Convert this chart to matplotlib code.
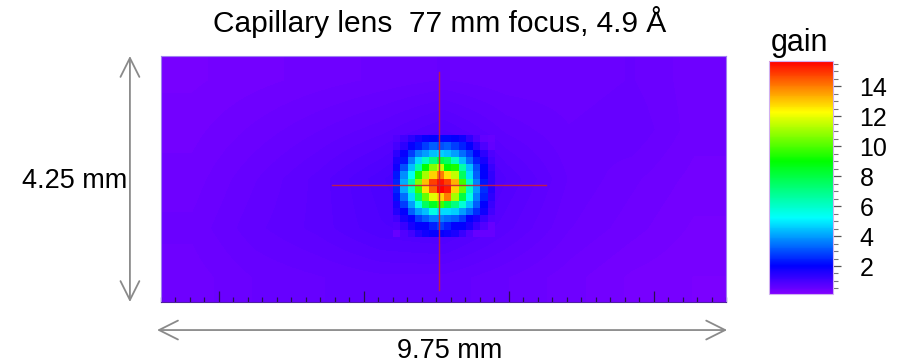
import numpy as np
import matplotlib
matplotlib.use("Agg")
import matplotlib.pyplot as plt
from matplotlib.colors import LinearSegmentedColormap, Normalize
from matplotlib.ticker import MultipleLocator, FixedLocator

plt.rcParams['font.family'] = ['Liberation Sans', 'DejaVu Sans']

# ---- data ----
title = "Capillary lens  77 mm focus, 4.9 \u00c5"
width_mm = 9.75
height_mm = 4.25
cell_mm = 0.125
gain_min, gain_max = 0.13, 15.7

# coarse background gain (top row first)
background = [
    [0.30, 0.35, 0.40, 0.45, 0.50, 0.45, 0.45, 0.50, 0.40],
    [0.35, 0.45, 0.55, 0.65, 0.80, 0.60, 0.50, 0.55, 0.40],
    [0.40, 0.55, 0.70, 0.90, 1.20, 0.80, 0.55, 0.45, 0.35],
    [0.45, 0.60, 0.70, 0.85, 0.90, 0.70, 0.50, 0.40, 0.30],
    [0.40, 0.50, 0.55, 0.60, 0.60, 0.50, 0.40, 0.30, 0.25],
]

# focal spot cells: rows 11-24, columns 32-45 of the 34 x 78 pixel scan
spot_row0, spot_col0 = 11, 32
spot = [
    [0.8, 1.1, 1.4, 1.7, 1.9, 2.0, 2.1, 2.1, 2.0, 1.8, 1.3, 0.9, 0.6, 0.5],
    [1.0, 1.4, 1.9, 2.3, 2.8, 3.2, 3.0, 3.2, 2.8, 2.4, 2.0, 1.4, 0.9, 0.6],
    [1.4, 1.9, 2.8, 3.6, 4.0, 4.4, 4.6, 4.4, 4.0, 3.4, 2.8, 2.0, 1.4, 0.9],
    [1.6, 2.2, 3.6, 4.8, 6.1, 7.1, 8.0, 7.6, 6.1, 4.4, 3.4, 2.4, 1.7, 1.0],
    [1.8, 3.0, 4.4, 6.5, 9.0, 10.7, 11.5, 9.0, 9.3, 6.5, 4.4, 3.0, 2.0, 1.2],
    [2.3, 3.8, 5.4, 9.3, 11.1, 12.9, 14.0, 12.7, 11.5, 7.6, 4.8, 3.2, 2.0, 1.3],
    [2.5, 4.2, 6.5, 10.7, 13.1, 14.8, 15.4, 14.8, 13.3, 9.8, 6.1, 3.6, 2.3, 1.3],
    [2.5, 4.2, 6.1, 9.8, 12.7, 14.4, 15.7, 15.3, 12.9, 10.3, 6.1, 4.0, 2.6, 1.5],
    [2.2, 3.4, 4.8, 7.6, 10.3, 11.9, 12.9, 14.0, 11.1, 8.0, 5.6, 3.6, 2.4, 1.4],
    [1.7, 2.8, 4.0, 5.6, 7.6, 8.5, 9.8, 8.0, 7.1, 5.8, 4.4, 3.2, 2.0, 1.2],
    [1.5, 2.0, 3.2, 4.0, 4.4, 5.6, 4.8, 4.8, 4.6, 4.0, 3.4, 2.6, 1.8, 1.1],
    [1.1, 1.7, 2.0, 2.8, 3.2, 3.6, 3.6, 3.4, 3.2, 2.8, 2.0, 1.7, 1.2, 0.8],
    [0.8, 1.2, 1.7, 2.0, 2.0, 2.4, 2.8, 2.4, 2.0, 2.0, 1.7, 1.2, 0.8, 0.5],
    [0.5, 0.8, 1.1, 1.5, 1.8, 1.9, 1.9, 1.8, 1.6, 1.2, 0.8, 0.5, 0.5, 0.5],
]

cross_x, cross_y, cross_half = 4.80, 2.02, 1.85
cbar_ticks = [2, 4, 6, 8, 10, 12, 14]

# ---- colormap: purple -> blue -> cyan -> green -> yellow -> red ----
stops = [(gain_min, (0.5, 0.0, 1.0)), (2.0, (0.0, 0.0, 1.0)), (5.2, (0.0, 1.0, 1.0)),
         (9.0, (0.0, 1.0, 0.0)), (12.3, (1.0, 1.0, 0.0)), (gain_max, (1.0, 0.0, 0.0))]
cmap = LinearSegmentedColormap.from_list(
    "gain", [((v - gain_min) / (gain_max - gain_min), c) for v, c in stops])
norm = Normalize(gain_min, gain_max)

fig = plt.figure(figsize=(8.99, 3.63), dpi=100)
ax = fig.add_axes([161 / 899, 61 / 363, 565 / 899, 246 / 363])

ax.imshow(np.array(background), cmap=cmap, norm=norm, interpolation='bilinear',
          extent=[0, width_mm, 0, height_mm], aspect='auto', origin='upper')
spot_arr = np.array(spot)
nr, nc = spot_arr.shape
x0 = spot_col0 * cell_mm
y1 = height_mm - spot_row0 * cell_mm
ax.imshow(spot_arr, cmap=cmap, norm=norm, interpolation='nearest',
          extent=[x0, x0 + nc * cell_mm, y1 - nr * cell_mm, y1], aspect='auto', origin='upper')
ax.set_xlim(0, width_mm)
ax.set_ylim(0, height_mm)

# crosshair
cross_col = '#c8203c'
ax.plot([cross_x - cross_half, cross_x + cross_half], [cross_y, cross_y],
        color=cross_col, lw=1.0, alpha=0.9)
ax.plot([cross_x, cross_x], [cross_y - cross_half * 0.98, cross_y + cross_half * 1.06],
        color=cross_col, lw=1.0, alpha=0.9)

ax.xaxis.set_major_locator(FixedLocator([1.0, 3.5, 6.0, 8.5]))
ax.xaxis.set_minor_locator(MultipleLocator(0.25))
ax.tick_params(axis='x', which='both', direction='in', bottom=True, top=False,
               labelbottom=False, color='#2a1050', width=0.9)
ax.tick_params(axis='x', which='major', length=8)
ax.tick_params(axis='x', which='minor', length=3.5)
ax.tick_params(axis='y', which='both', left=False, right=False, labelleft=False)
for s in ax.spines.values():
    s.set_color('#a080f0')
    s.set_linewidth(0.8)
ax.spines['bottom'].set_color('#5020a0')

# dimension arrows
arrow_kw = dict(arrowstyle='<->', color='#8a8a8a', lw=1.3, mutation_scale=34,
                shrinkA=0, shrinkB=0)
ax.annotate('', xy=(-0.055, 0.0), xytext=(-0.055, 1.0), xycoords='axes fraction',
            textcoords='axes fraction', arrowprops=arrow_kw, annotation_clip=False)
ax.annotate('', xy=(-0.007, -0.114), xytext=(1.002, -0.114), xycoords='axes fraction',
            textcoords='axes fraction', arrowprops=arrow_kw, annotation_clip=False)
ax.text(-0.152, 0.49, f"{height_mm:.2f} mm", transform=ax.transAxes, ha='center',
        va='center', fontsize=19.5)
ax.text(0.51, -0.2, f"{width_mm:.2f} mm", transform=ax.transAxes, ha='center',
        va='center', fontsize=19.5)

fig.text(440 / 899, 1 - 22 / 363, title, ha='center', va='center', fontsize=21.5)

# colour bar
cax = fig.add_axes([769 / 899, 69 / 363, 64 / 899, 233 / 363])
sm = plt.cm.ScalarMappable(norm=norm, cmap=cmap)
cb = fig.colorbar(sm, cax=cax)
cb.set_ticks(cbar_ticks)
cb.ax.yaxis.set_minor_locator(MultipleLocator(0.5))
cb.ax.tick_params(which='major', length=6, width=0.9, color='#555555', labelsize=18, pad=13)
cb.ax.tick_params(which='minor', length=3.5, width=0.8, color='#777777')
cb.outline.set_edgecolor('#d0b0f0')
cb.outline.set_linewidth(0.8)
fig.text(800 / 899, 1 - 51 / 363, 'gain', ha='center', va='baseline', fontsize=22)

fig.savefig('out.png', dpi=100)
